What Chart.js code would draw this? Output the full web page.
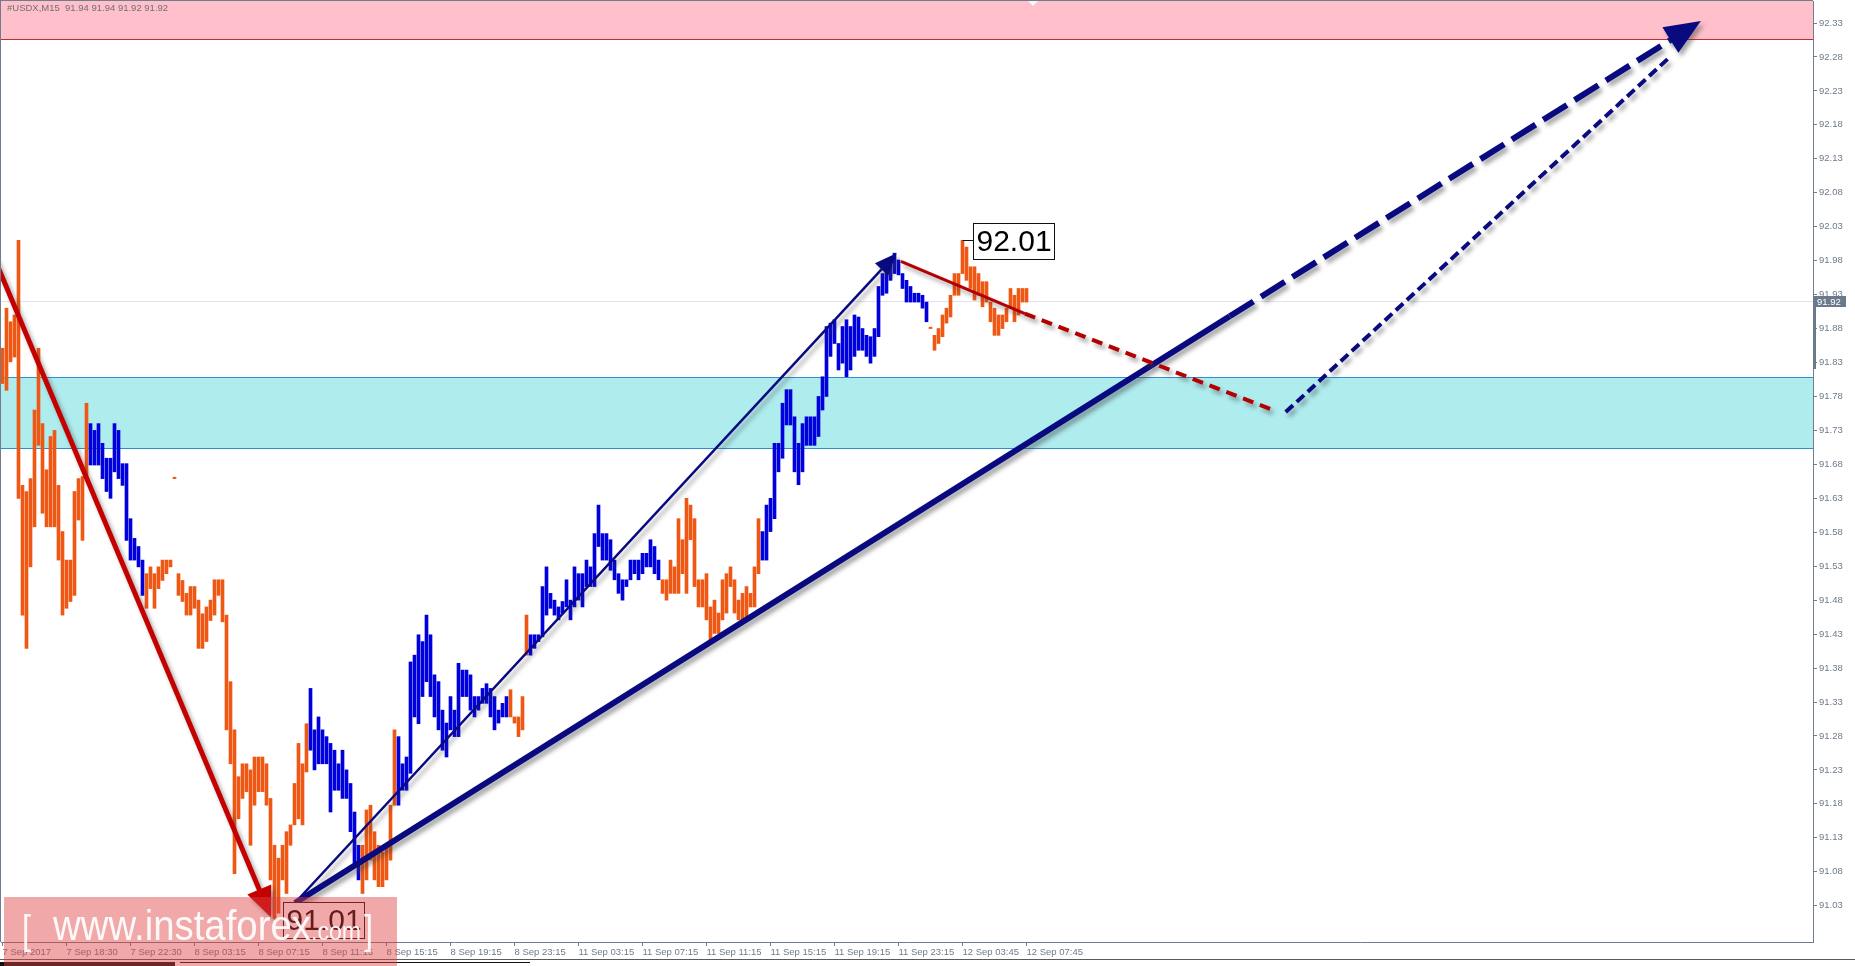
<!DOCTYPE html>
<html lang="en">
<head>
<meta charset="UTF-8">
<title>USDX M15</title>
<script src="https://cdn.jsdelivr.net/npm/chart.js"></script>
<style>
  body { margin: 0; background: #fff; overflow: hidden; }
  canvas { display: block; }
</style>
</head>
<body>
<canvas id="chart" width="1855" height="966"></canvas>
<script>
// M15 bars, high / low (one entry per bar)
const barHigh = [
  91.851, 91.910, 91.890, 91.900, 92.010, 91.649, 91.640, 91.659, 91.760, 91.851,
  91.740, 91.672, 91.721, 91.730, 91.649, 91.581, 91.539, 91.539, 91.640, 91.659,
  91.662, 91.770, 91.740, 91.730, 91.740, 91.711, 91.689, 91.689, 91.740, 91.730,
  91.681, 91.681, 91.600, 91.571, 91.559, 91.539, 91.519, 91.529, 91.519, 91.529,
  91.539, 91.539, 91.539, 91.661, 91.519, 91.509, 91.490, 91.500, 91.500, 91.480,
  91.460, 91.470, 91.480, 91.510, 91.510, 91.510, 91.458, 91.360, 91.289, 91.220,
  91.239, 91.239, 91.230, 91.249, 91.249, 91.249, 91.239, 91.188, 91.119, 91.100,
  91.119, 91.139, 91.149, 91.210, 91.269, 91.239, 91.298, 91.350, 91.289, 91.308,
  91.289, 91.279, 91.269, 91.259, 91.239, 91.259, 91.230, 91.210, 91.168, 91.119,
  91.119, 91.171, 91.178, 91.139, 91.119, 91.109, 91.119, 91.178, 91.289, 91.279,
  91.239, 91.249, 91.389, 91.399, 91.429, 91.419, 91.458, 91.429, 91.370, 91.360,
  91.318, 91.299, 91.338, 91.318, 91.387, 91.377, 91.377, 91.370, 91.338, 91.338,
  91.350, 91.357, 91.350, 91.338, 91.318, 91.328, 91.338, 91.348, 91.308, 91.308,
  91.338, 91.458, 91.429, 91.429, 91.429, 91.500, 91.529, 91.490, 91.480, 91.470,
  91.478, 91.510, 91.480, 91.529, 91.519, 91.519, 91.539, 91.529, 91.578, 91.620,
  91.578, 91.578, 91.569, 91.539, 91.519, 91.510, 91.510, 91.539, 91.539, 91.539,
  91.549, 91.549, 91.569, 91.559, 91.539, 91.510, 91.510, 91.539, 91.529, 91.600,
  91.569, 91.630, 91.620, 91.600, 91.510, 91.510, 91.519, 91.470, 91.480, 91.461,
  91.510, 91.519, 91.529, 91.510, 91.480, 91.490, 91.500, 91.490, 91.529, 91.600,
  91.581, 91.620, 91.630, 91.711, 91.711, 91.770, 91.790, 91.790, 91.750, 91.711,
  91.740, 91.750, 91.750, 91.750, 91.780, 91.809, 91.883, 91.888, 91.893, 91.858,
  91.883, 91.893, 91.883, 91.900, 91.897, 91.880, 91.870, 91.868, 91.880, 91.942,
  91.961, 91.976, 91.981, 91.991, 91.981, 91.961, 91.951, 91.942, 91.932, 91.932,
  91.929, 91.919, 91.882, 91.870, 91.880, 91.900, 91.910, 91.929, 91.961, 91.961,
  92.010, 92.000, 91.971, 91.971, 91.961, 91.949, 91.949, 91.919, 91.910, 91.900,
  91.900, 91.910, 91.939, 91.929, 91.939, 91.939, 91.939
];
const barLow = [
  91.799, 91.789, 91.831, 91.838, 91.630, 91.458, 91.409, 91.529, 91.588, 91.708,
  91.608, 91.588, 91.588, 91.588, 91.539, 91.458, 91.468, 91.478, 91.487, 91.598,
  91.568, 91.659, 91.679, 91.679, 91.679, 91.659, 91.640, 91.630, 91.669, 91.659,
  91.649, 91.568, 91.539, 91.539, 91.529, 91.487, 91.468, 91.497, 91.468, 91.497,
  91.509, 91.519, 91.529, 91.659, 91.487, 91.478, 91.458, 91.458, 91.468, 91.409,
  91.409, 91.419, 91.450, 91.458, 91.487, 91.448, 91.289, 91.239, 91.077, 91.158,
  91.188, 91.198, 91.119, 91.178, 91.198, 91.198, 91.178, 91.068, 91.011, 91.019,
  91.068, 91.048, 91.119, 91.149, 91.158, 91.149, 91.227, 91.259, 91.230, 91.239,
  91.239, 91.239, 91.168, 91.200, 91.200, 91.188, 91.188, 91.139, 91.087, 91.068,
  91.048, 91.068, 91.097, 91.068, 91.058, 91.058, 91.068, 91.097, 91.178, 91.178,
  91.200, 91.200, 91.225, 91.308, 91.298, 91.338, 91.360, 91.338, 91.308, 91.289,
  91.259, 91.249, 91.289, 91.279, 91.279, 91.338, 91.338, 91.318, 91.308, 91.318,
  91.328, 91.328, 91.308, 91.289, 91.299, 91.308, 91.308, 91.308, 91.299, 91.279,
  91.289, 91.399, 91.399, 91.409, 91.419, 91.426, 91.458, 91.468, 91.458, 91.451,
  91.461, 91.470, 91.451, 91.470, 91.480, 91.470, 91.500, 91.500, 91.500, 91.559,
  91.539, 91.539, 91.524, 91.510, 91.490, 91.480, 91.500, 91.510, 91.519, 91.510,
  91.519, 91.529, 91.529, 91.519, 91.510, 91.490, 91.480, 91.490, 91.490, 91.490,
  91.519, 91.490, 91.569, 91.500, 91.470, 91.470, 91.451, 91.421, 91.431, 91.431,
  91.451, 91.461, 91.500, 91.461, 91.451, 91.451, 91.451, 91.470, 91.470, 91.519,
  91.539, 91.539, 91.581, 91.600, 91.669, 91.689, 91.738, 91.738, 91.669, 91.650,
  91.669, 91.708, 91.708, 91.708, 91.721, 91.760, 91.780, 91.839, 91.858, 91.819,
  91.829, 91.809, 91.819, 91.839, 91.848, 91.848, 91.839, 91.829, 91.839, 91.868,
  91.929, 91.932, 91.951, 91.961, 91.959, 91.939, 91.919, 91.919, 91.919, 91.919,
  91.910, 91.890, 91.880, 91.848, 91.858, 91.868, 91.888, 91.897, 91.929, 91.929,
  91.961, 91.951, 91.939, 91.922, 91.929, 91.912, 91.919, 91.890, 91.870, 91.870,
  91.880, 91.890, 91.910, 91.890, 91.900, 91.919, 91.919
];
// bar index ranges painted blue (the rest are orange)
const blueRuns = [[22, 35], [77, 89], [99, 126], [132, 164], [190, 231]];

const tickBars = [0, 16, 32, 48, 64, 80, 96, 112, 128, 144, 160, 176, 192, 208, 224, 240, 256];
const tickLabels = ['7 Sep 2017', '7 Sep 18:30', '7 Sep 22:30', '8 Sep 03:15', '8 Sep 07:15',
  '8 Sep 11:15', '8 Sep 15:15', '8 Sep 19:15', '8 Sep 23:15', '11 Sep 03:15', '11 Sep 07:15',
  '11 Sep 11:15', '11 Sep 15:15', '11 Sep 19:15', '11 Sep 23:15', '12 Sep 03:45', '12 Sep 07:45'];
const priceTicks = [91.03, 91.08, 91.13, 91.18, 91.23, 91.28, 91.33, 91.38, 91.43, 91.48,
  91.53, 91.58, 91.63, 91.68, 91.73, 91.78, 91.83, 91.88, 91.93, 91.98, 92.03, 92.08,
  92.13, 92.18, 92.23, 92.28, 92.33];

const lastPrice = 91.92;
const sellZone = [92.306, 92.50];
const buyZone = [91.704, 91.809];
const extremes = [
  { bar: 68, price: 91.011, text: '91.01', boxBar: 70, boxTop: 91.035 },
  { bar: 240, price: 92.010, text: '92.01', boxBar: 242.6, boxTop: 92.035 }
];
// wave lines: [bar, price] end points
const waveLines = [
  { from: [-2.0, 91.983], to: [67.1, 91.013], color: '#C40000', width: 5, arrow: [30, 13] },
  { from: [73.1, 91.034], to: [223.5, 91.991], color: '#0A0A80', width: 2.5, arrow: [22, 9] },
  { from: [73.1, 91.034], to: [306.8, 91.898], color: '#0A0A80', width: 6 },
  { from: [306.8, 91.898], to: [424.6, 92.333], color: '#0A0A80', width: 6, dash: [28, 9], arrow: [36, 15] },
  { from: [224.6, 91.979], to: [255.6, 91.902], color: '#B40000', width: 3 },
  { from: [255.6, 91.902], to: [318.1, 91.759], color: '#B40000', width: 4, dash: [11, 7] },
  { from: [320.8, 91.757], to: [416.3, 92.277], color: '#0A0A80', width: 4, dash: [10, 5] }
];

const ORANGE = '#EF5714';
const BLUE = '#0000DC';
const AXIS = '#6F7D8C';
const LABEL = '#6E7B8A';
const FONT = "'Liberation Sans', Arial, sans-serif";

const isBlue = i => blueRuns.some(r => i >= r[0] && i <= r[1]);

function drawArrow(ctx, x0, y0, x1, y1, len, half, color) {
  const a = Math.atan2(y1 - y0, x1 - x0);
  const bx = x1 - len * Math.cos(a), by = y1 - len * Math.sin(a);
  ctx.beginPath();
  ctx.moveTo(x1, y1);
  ctx.lineTo(bx + half * Math.sin(a), by - half * Math.cos(a));
  ctx.lineTo(bx - half * Math.sin(a), by + half * Math.cos(a));
  ctx.closePath();
  ctx.fillStyle = color;
  ctx.fill();
}

// text squeezed horizontally to a given width (watermark face is narrower than Arial)
function fitText(ctx, txt, x, y, w) {
  const k = w / ctx.measureText(txt).width;
  ctx.save();
  ctx.translate(x, y);
  ctx.scale(k, 1);
  ctx.fillText(txt, 0, 0);
  ctx.restore();
}

const overlay = {
  id: 'overlay',
  beforeDatasetsDraw(chart) {
    const { ctx, chartArea: a, scales: { x, y } } = chart;
    ctx.save();
    ctx.beginPath();
    ctx.rect(a.left, a.top, a.right - a.left, a.bottom - a.top);
    ctx.clip();
    // sell zone
    let t = Math.max(a.top, y.getPixelForValue(sellZone[1]));
    let b = Math.round(y.getPixelForValue(sellZone[0]));
    ctx.fillStyle = '#FFC0CB';
    ctx.fillRect(a.left, t, a.right - a.left, b - t);
    ctx.fillStyle = '#C8282E';
    ctx.fillRect(a.left, b, a.right - a.left, 1);
    // buy zone
    t = Math.round(y.getPixelForValue(buyZone[1]));
    b = Math.round(y.getPixelForValue(buyZone[0]));
    ctx.fillStyle = '#AFECEE';
    ctx.fillRect(a.left, t, a.right - a.left, b - t);
    ctx.fillStyle = '#2E8FD0';
    ctx.fillRect(a.left, t, a.right - a.left, 1);
    ctx.fillRect(a.left, b, a.right - a.left, 1);
    // last price line
    ctx.fillStyle = '#E2E2EC';
    ctx.fillRect(a.left, Math.round(y.getPixelForValue(lastPrice)), a.right - a.left, 1);
    ctx.restore();
  },
  afterDatasetsDraw(chart) {
    const { ctx, chartArea: a, scales: { x, y } } = chart;
    ctx.save();
    ctx.beginPath();
    ctx.rect(a.left, a.top, a.right - a.left, a.bottom - a.top);
    ctx.clip();
    // wave lines with soft shadow
    waveLines.forEach(l => {
      const x0 = x.getPixelForValue(l.from[0]), y0 = y.getPixelForValue(l.from[1]);
      const x1 = x.getPixelForValue(l.to[0]), y1 = y.getPixelForValue(l.to[1]);
      let ex = x1, ey = y1;
      if (l.arrow) {
        const d = Math.hypot(x1 - x0, y1 - y0);
        ex = x1 - (x1 - x0) / d * l.arrow[0] * 0.8;
        ey = y1 - (y1 - y0) / d * l.arrow[0] * 0.8;
      }
      ctx.save();
      ctx.shadowColor = 'rgba(60,60,60,0.45)';
      ctx.shadowOffsetX = 3;
      ctx.shadowOffsetY = 4;
      ctx.shadowBlur = 4;
      ctx.strokeStyle = l.color;
      ctx.lineWidth = l.width;
      ctx.lineCap = 'butt';
      ctx.setLineDash(l.dash || []);
      ctx.beginPath();
      ctx.moveTo(x0, y0);
      ctx.lineTo(ex, ey);
      ctx.stroke();
      if (l.arrow) drawArrow(ctx, x0, y0, x1, y1, l.arrow[0], l.arrow[1], l.color);
      ctx.restore();
    });
    // extreme price boxes
    extremes.forEach(m => {
      const px = x.getPixelForValue(m.bar), py = Math.round(y.getPixelForValue(m.price)) + 0.5;
      const bx = Math.round(x.getPixelForValue(m.boxBar)) + 0.5;
      const by = Math.round(y.getPixelForValue(m.boxTop)) + 0.5;
      ctx.font = '30px ' + FONT;
      const w = Math.round(ctx.measureText(m.text).width) + 6, h = 36;
      ctx.strokeStyle = '#111';
      ctx.lineWidth = 1;
      ctx.beginPath();
      ctx.moveTo(px, py);
      ctx.lineTo(bx, py);
      ctx.stroke();
      ctx.fillStyle = '#fff';
      ctx.fillRect(bx, by, w, h);
      ctx.strokeRect(bx, by, w, h);
      ctx.fillStyle = '#000';
      ctx.textBaseline = 'middle';
      ctx.textAlign = 'left';
      ctx.fillText(m.text, bx + 3, by + h / 2 + 1);
    });
    ctx.restore();
  },
  afterDraw(chart) {
    const { ctx, chartArea: a, scales: { y } } = chart;
    ctx.save();
    // frame (left / top)
    ctx.fillStyle = AXIS;
    ctx.fillRect(0, 0, a.right, 1);
    ctx.fillRect(0, 0, 1, a.bottom);
    // shift marker at the top
    ctx.fillStyle = '#F4F4FA';
    ctx.beginPath();
    ctx.moveTo(1028, 1);
    ctx.lineTo(1038, 1);
    ctx.lineTo(1033, 6);
    ctx.closePath();
    ctx.fill();
    // title
    ctx.fillStyle = '#707070';
    ctx.font = '9.5px ' + FONT;
    ctx.textBaseline = 'top';
    ctx.textAlign = 'left';
    ctx.fillText('#USDX,M15  91.94 91.94 91.92 91.92', 7, 4);
    // last price tag on the axis
    const py = Math.round(y.getPixelForValue(lastPrice));
    ctx.fillStyle = '#6B7A8A';
    ctx.fillRect(a.right, py - 5, 33, 11);
    ctx.fillRect(a.right, py + 6, 3, Math.round(y.getPixelForValue(91.82)) - py - 6);
    ctx.fillStyle = '#fff';
    ctx.textBaseline = 'middle';
    ctx.fillText(lastPrice.toFixed(2), a.right + 4, py + 1);
    // bottom strip
    ctx.fillStyle = '#5A5A5A';
    ctx.fillRect(0, 959, 1855, 1);
    ctx.fillStyle = '#111';
    ctx.fillRect(0, 962, 175, 4);
    ctx.fillRect(180, 962, 350, 1);
    // watermark
    ctx.fillStyle = 'rgba(222,62,62,0.45)';
    ctx.fillRect(4, 897, 393, 69);
    ctx.fillStyle = 'rgba(255,255,255,0.92)';
    ctx.textBaseline = 'alphabetic';
    ctx.font = '40px ' + FONT;
    fitText(ctx, '[', 22, 944, 9);
    fitText(ctx, ']', 364, 944, 9);
    ctx.font = '42px ' + FONT;
    fitText(ctx, 'www.instaforex', 53, 940, 258);
    ctx.font = '26px ' + FONT;
    fitText(ctx, '.com', 311, 940, 50);
    ctx.restore();
  }
};

new Chart(document.getElementById('chart'), {
  type: 'bar',
  data: {
    datasets: [{
      data: barLow.map((lo, i) => ({ x: i, y: [lo, barHigh[i]] })),
      backgroundColor: barLow.map((_, i) => isBlue(i) ? BLUE : ORANGE),
      borderWidth: 0,
      barThickness: 3,
      minBarLength: 1
    }]
  },
  options: {
    responsive: false,
    animation: false,
    devicePixelRatio: 1,
    events: [],
    layout: { autoPadding: false, padding: { left: 1, top: 1, right: 0, bottom: 0 } },
    plugins: { legend: { display: false }, tooltip: { enabled: false } },
    scales: {
      x: {
        type: 'linear',
        offset: false,
        min: -0.375,
        max: 452.625,
        afterBuildTicks: s => { s.ticks = tickBars.map(v => ({ value: v })); },
        afterFit: s => { s.height = 24; s.paddingLeft = 0; s.paddingRight = 0; },
        grid: { drawOnChartArea: false, offset: false, tickLength: 4, tickColor: AXIS },
        border: { color: AXIS },
        ticks: {
          autoSkip: false, maxRotation: 0, align: 'start', padding: 1,
          color: LABEL, font: { family: FONT, size: 9.5 },
          callback: (v, i) => tickLabels[i]
        }
      },
      y: {
        position: 'right',
        min: 92.33 - 919 / 679,
        max: 92.33 + 22 / 679,
        afterBuildTicks: s => { s.ticks = priceTicks.map(v => ({ value: v })); },
        afterFit: s => { s.width = 42; s.paddingTop = 0; s.paddingBottom = 0; },
        grid: { drawOnChartArea: false, tickLength: 4, tickColor: AXIS },
        border: { color: AXIS },
        ticks: {
          padding: 2, color: LABEL, font: { family: FONT, size: 9.5 },
          callback: v => v.toFixed(2)
        }
      }
    }
  },
  plugins: [overlay]
});
</script>
</body>
</html>
